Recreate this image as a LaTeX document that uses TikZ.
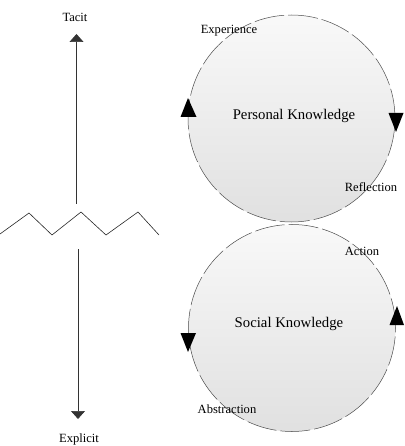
\documentclass[tikz,border=0pt]{standalone}
\usepackage{fontspec}
\setmainfont{Liberation Serif}
\usetikzlibrary{arrows.meta}
\begin{document}
\begin{tikzpicture}[x=1bp,y=-1bp,
  lbl/.style={font=\fontsize{12.6}{14}\selectfont, inner sep=0pt},
  biglbl/.style={font=\fontsize{14.8}{17}\selectfont, inner sep=0pt},
  ring/.style={circle, minimum size=207bp, inner sep=0pt, top color=gray!5, bottom color=gray!24,
    draw=gray!60!black, line width=0.5bp, dash pattern=on 30bp off 4bp},
  axis/.style={line width=0.7bp, draw=black!80, -{Triangle[width=14bp,length=8bp]}},
  zig/.style={line width=0.6bp, draw=black!85},
  tri/.style={fill=black}]
\useasboundingbox (0,0) rectangle (404,446);
% circles
\node[ring] (pk) at (291.5,118.5) {};
\node[ring] (sk) at (292,328) {};
\node[biglbl] (pkl) at (294,116) {Personal Knowledge};
\node[biglbl] (skl) at (289,324) {Social Knowledge};
\node[lbl] (exp) at (229,31) {Experience};
\node[lbl] (ref) at (371,187) {Reflection};
\node[lbl] (act) at (362,251) {Action};
\node[lbl] (abs) at (227,409) {Abstraction};
% circle arrowheads
\fill[tri] (188,98) -- (180.5,117) -- (196.5,117) -- cycle;
\fill[tri] (396,132) -- (388.5,113) -- (403.5,113) -- cycle;
\fill[tri] (188,352) -- (180.5,333) -- (196,333) -- cycle;
\fill[tri] (397,306) -- (389.5,325) -- (404,325) -- cycle;
% axis
\node[lbl] (tacit) at (75,17) {Tacit};
\node[lbl] (expl) at (79,439) {Explicit};
\coordinate (ut) at (76.5,204);
\coordinate (uh) at (76.5,34);
\coordinate (lt) at (78,249);
\coordinate (lh) at (78,419);
\draw[axis] (ut) -- (uh);
\draw[axis] (lt) -- (lh);
% zigzag break
\coordinate (z0) at (0,234);
\coordinate (z1) at (29,213);
\coordinate (z2) at (52,235);
\coordinate (z3) at (81,212);
\coordinate (z4) at (106,235);
\coordinate (z5) at (138,212);
\coordinate (z6) at (159,235);
\draw[zig] (z0) -- (z1) -- (z2) -- (z3) -- (z4) -- (z5) -- (z6);
\end{tikzpicture}
\end{document}
